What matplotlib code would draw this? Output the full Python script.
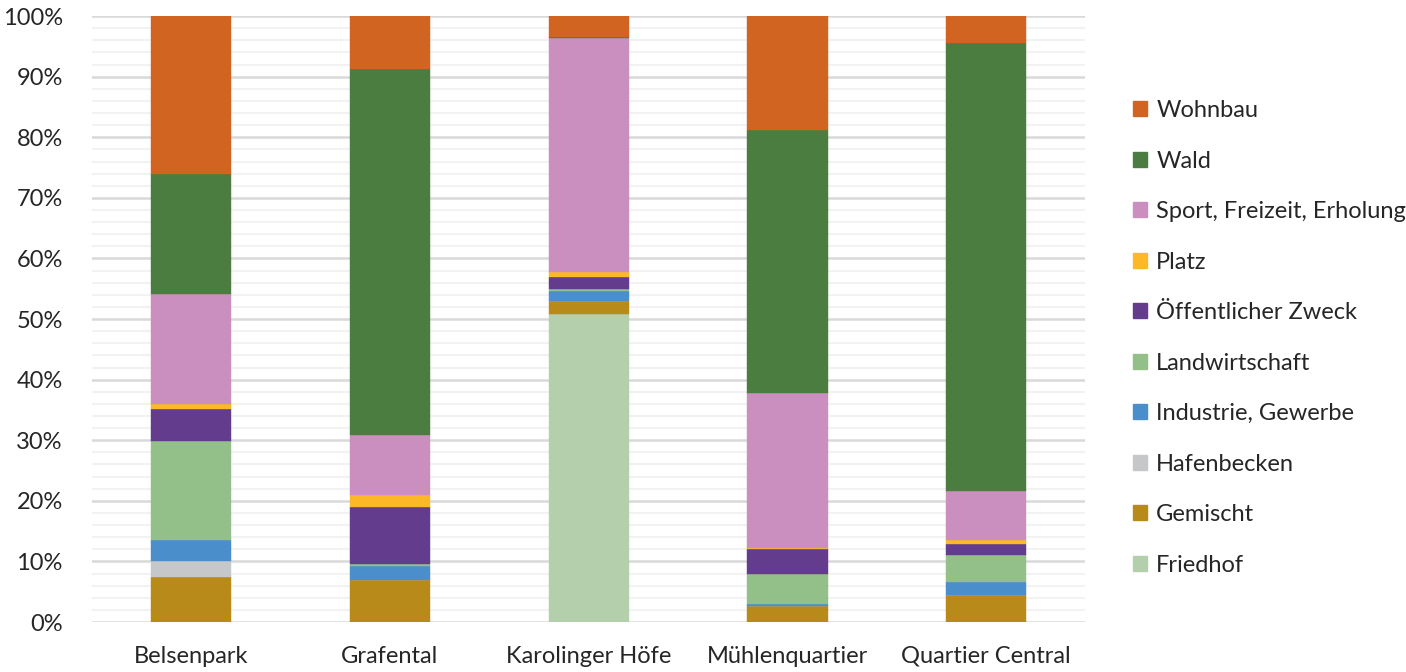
import matplotlib
matplotlib.use("Agg")
import matplotlib.pyplot as plt
import numpy as np
from matplotlib.patches import Patch
from matplotlib.ticker import MultipleLocator, PercentFormatter

plt.rcParams['font.family'] = ['Lato', 'DejaVu Sans']

categories = ["Belsenpark", "Grafental", "Karolinger Höfe", "Mühlenquartier", "Quartier Central"]

# stacked bottom -> top
series_names = ["Friedhof", "Gemischt", "Hafenbecken", "Industrie, Gewerbe", "Landwirtschaft",
                "Öffentlicher Zweck", "Platz", "Sport, Freizeit, Erholung", "Wald", "Wohnbau"]
friedhof = [0.0, 0.0, 50.8, 0.0, 0.0]
gemischt = [7.5, 7.0, 2.1, 2.6, 4.4]
hafenbecken = [2.6, 0.0, 0.0, 0.0, 0.0]
industrie = [3.5, 2.3, 1.7, 0.4, 2.2]
landwirtschaft = [16.3, 0.3, 0.3, 4.9, 4.5]
oeffentlich = [5.2, 9.3, 2.1, 4.2, 1.7]
platz = [0.8, 2.0, 0.8, 0.1, 0.8]
sport = [18.3, 9.9, 38.6, 25.6, 8.0]
wald = [19.7, 60.4, 0.2, 43.4, 73.9]
wohnbau = [26.1, 8.8, 3.4, 18.8, 4.5]

series_values = [friedhof, gemischt, hafenbecken, industrie, landwirtschaft,
                 oeffentlich, platz, sport, wald, wohnbau]
colors = ["#B3CFAB", "#B78A1A", "#C6C7C8", "#4A8FCB", "#93C089",
          "#633C8E", "#FDB827", "#CA8FBE", "#4A7D3F", "#D26422"]

fig = plt.figure(figsize=(14.06, 6.72), dpi=100)
ax = fig.add_axes([0.0654, 0.0744, 0.7066, 0.9016])

x = np.arange(len(categories))
data = np.array(series_values, dtype=float)
data = data / data.sum(axis=0) * 100
bottom = np.zeros(len(categories))
for vals, col in zip(data, colors):
    ax.bar(x, vals, bottom=bottom, width=0.404, color=col, edgecolor=col, linewidth=0.3, zorder=3)
    bottom += vals

ax.set_xlim(-0.5, len(categories) - 0.5)
ax.set_ylim(0, 100)
ax.yaxis.set_major_locator(MultipleLocator(10))
ax.yaxis.set_minor_locator(MultipleLocator(2))
ax.yaxis.set_major_formatter(PercentFormatter(decimals=0))
ax.grid(axis='y', which='minor', color='#F2F2F2', linewidth=1.5, zorder=0)
ax.grid(axis='y', which='major', color='#D9D9D9', linewidth=1.8, zorder=1)
ax.set_axisbelow(True)
for s in ax.spines.values():
    s.set_visible(False)
ax.tick_params(axis='both', which='both', length=0, labelsize=17, labelcolor='#262626')
ax.tick_params(axis='y', pad=21)
ax.tick_params(axis='x', pad=17)
ax.set_xticks(x)
ax.set_xticklabels(categories)

handles = [Patch(facecolor=c, edgecolor=c, label=n) for n, c in zip(series_names, colors)][::-1]
leg = fig.legend(handles=handles, loc='center left', bbox_to_anchor=(0.8055, 0.497),
                 frameon=False, fontsize=17, handlelength=0.6, handleheight=0.6,
                 handletextpad=0.4, labelspacing=1.25, labelcolor='#262626',
                 borderaxespad=0, borderpad=0)

fig.savefig("out.png", dpi=100)
